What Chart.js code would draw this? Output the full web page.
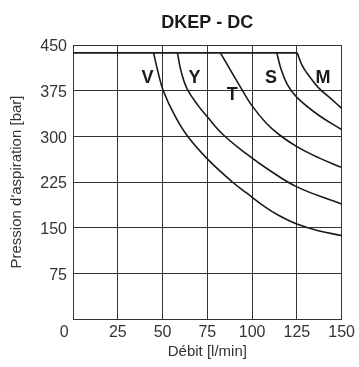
<!DOCTYPE html>
<html><head><meta charset="utf-8">
<script src="https://cdn.jsdelivr.net/npm/chart.js@4"></script>
<style>html,body{margin:0;padding:0;background:#fff;}canvas{display:block;}</style>
</head><body>
<canvas id="c" width="359" height="367"></canvas>
<script>
const chartTitle = 'DKEP - DC';
const xTitle = 'Débit [l/min]';
const yTitle = "Pression d'aspiration [bar]";
const curveNames = ['V', 'Y', 'T', 'S', 'M'];
const flowV = [45, 47.6, 50.4, 57, 64, 75, 89, 96.9, 107.8, 115, 125, 137, 150];
const presV = [437, 404, 375, 333, 300, 263, 225, 207, 183, 170, 156, 145, 137];
const flowY = [58.3, 60.5, 63.7, 70, 75, 83.7, 96.9, 107.8, 125, 150];
const presY = [437, 405, 378, 350, 332, 303, 271, 248, 217, 189];
const flowT = [82.3, 94.7, 100, 107.8, 115, 125, 137, 150];
const presT = [437, 375, 350, 322, 303, 283, 265, 249];
const flowS = [113.8, 116, 119.7, 125, 137, 150];
const presS = [437, 412, 385, 364, 335, 311];
const flowM = [125.2, 128, 130.6, 137, 144.3, 150];
const presM = [437, 416, 404, 380, 361, 346];
const limitFlow = [0, 125.2];
const limitPres = [437, 437];
const labelFlow = [41.6, 67.9, 88.9, 110.6, 139.6];
const labelPres = [396, 396, 368, 396, 396];
const xTicks = [0, 25, 50, 75, 100, 125, 150];
const yTicks = [0, 75, 150, 225, 300, 375, 450];

const FONT = '"Liberation Sans", Arial, Helvetica, sans-serif';
const INK = '#1a1a1a';
const GRID = '#333333';

function pts(xs, ys) { return xs.map((x, i) => ({ x: x, y: ys[i] })); }
function ds(xs, ys) {
  return { data: pts(xs, ys), showLine: true, borderColor: INK, borderWidth: 1.6,
    pointRadius: 0, pointHoverRadius: 0, fill: false, tension: 0.4 };
}

const annot = {
  id: 'annot',
  afterDatasetsDraw(chart) {
    const { ctx, chartArea, scales } = chart;
    const x = scales.x, y = scales.y;
    ctx.save();
    ctx.fillStyle = INK;
    ctx.textAlign = 'center';
    ctx.textBaseline = 'middle';
    ctx.font = 'bold 18px ' + FONT;
    curveNames.forEach((n, i) => {
      ctx.fillText(n, x.getPixelForValue(labelFlow[i]), y.getPixelForValue(labelPres[i]));
    });
    ctx.font = 'bold 18px ' + FONT;
    ctx.fillText(chartTitle, (chartArea.left + chartArea.right) / 2, 23);
    ctx.restore();
  }
};

new Chart(document.getElementById('c'), {
  type: 'scatter',
  data: {
    datasets: [
      ds(limitFlow, limitPres),
      ds(flowV, presV),
      ds(flowY, presY),
      ds(flowT, presT),
      ds(flowS, presS),
      ds(flowM, presM)
    ]
  },
  options: {
    responsive: false,
    animation: false,
    devicePixelRatio: 1,
    layout: { padding: { top: 45, right: 12, left: 0, bottom: 0 } },
    plugins: { legend: { display: false }, tooltip: { enabled: false }, title: { display: false } },
    scales: {
      x: {
        type: 'linear', min: 0, max: 150,
        afterBuildTicks: s => { s.ticks = xTicks.map(v => ({ value: v })); },
        afterFit: s => { s.height = 48; },
        ticks: { autoSkip: false, maxRotation: 0, padding: 4, color: '#333',
          font: { family: FONT, size: 16 },
          callback: v => (v === 0 ? '0    ' : String(v)) },
        grid: { color: GRID, lineWidth: 1, drawTicks: false },
        border: { color: GRID, width: 1 },
        title: { display: true, text: xTitle, color: '#333', font: { family: FONT, size: 15 },
          padding: { top: 0, bottom: 6 } }
      },
      y: {
        type: 'linear', min: 0, max: 450,
        afterBuildTicks: s => { s.ticks = yTicks.map(v => ({ value: v })); },
        afterFit: s => { s.width = 73; },
        ticks: { autoSkip: false, padding: 6, labelOffset: 2, color: '#333',
          font: { family: FONT, size: 16 },
          callback: v => (v === 0 ? '' : String(v)) },
        grid: { color: GRID, lineWidth: 1, drawTicks: false },
        border: { color: GRID, width: 1 },
        title: { display: true, text: yTitle, color: '#333', font: { family: FONT, size: 15 },
          padding: { top: 8, bottom: 0 } }
      }
    }
  },
  plugins: [annot]
});
</script>
</body></html>
